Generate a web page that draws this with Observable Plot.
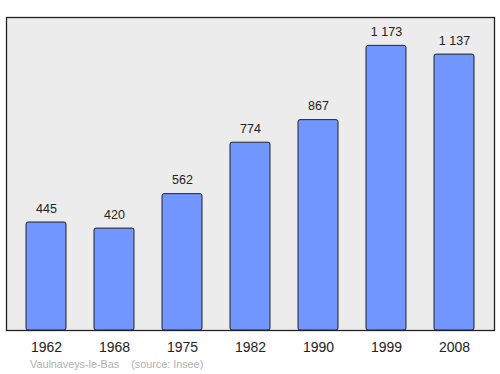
<!DOCTYPE html>
<html>
<head>
<meta charset="utf-8">
<script src="https://cdn.jsdelivr.net/npm/d3@7"></script>
<script src="https://cdn.jsdelivr.net/npm/@observablehq/plot@0.6"></script>
<style>
  body { margin: 0; background: #fff; font-family: "Liberation Sans", Arial, sans-serif; }
  #caption { height: 19px; line-height: 19px; font-size: 10.8px; color: #b0b0b0; padding-left: 30px; white-space: pre; }
</style>
</head>
<body>
<div id="chart"></div>
<div id="caption">Vaulnaveys-le-Bas    (source: Insee)</div>
<script>
const years = ["1962", "1968", "1975", "1982", "1990", "1999", "2008"];
const population = [445, 420, 562, 774, 867, 1173, 1137];

const data = years.map((y, i) => ({year: y, pop: population[i]}));
const fmt = v => d3.format(",")(v).replace(/,/g, " ");

const chart = Plot.plot({
  width: 500,
  height: 355,
  marginTop: 17,
  marginBottom: 25,
  marginLeft: 6,
  marginRight: 6,
  style: {fontFamily: "Liberation Sans, Arial, sans-serif", background: "#fff"},
  x: {domain: years, paddingInner: 0.41, paddingOuter: 0.28, label: null},
  y: {domain: [0, 1290], axis: null},
  marks: [
    Plot.frame({fill: "#ececec", stroke: "#222", strokeWidth: 1.3}),
    Plot.barY(data, {x: "year", y: "pop", fill: "#7196ff", stroke: "#222", strokeWidth: 1, rx: 2}),
    Plot.text(data, {x: "year", y: "pop", text: d => fmt(d.pop), dy: -14, fontSize: 12.5, fill: "#222"}),
    Plot.axisX({tickSize: 0, tickPadding: 12, fontSize: 14, color: "#222", label: null})
  ]
});
document.getElementById("chart").appendChild(chart);
</script>
</body>
</html>
